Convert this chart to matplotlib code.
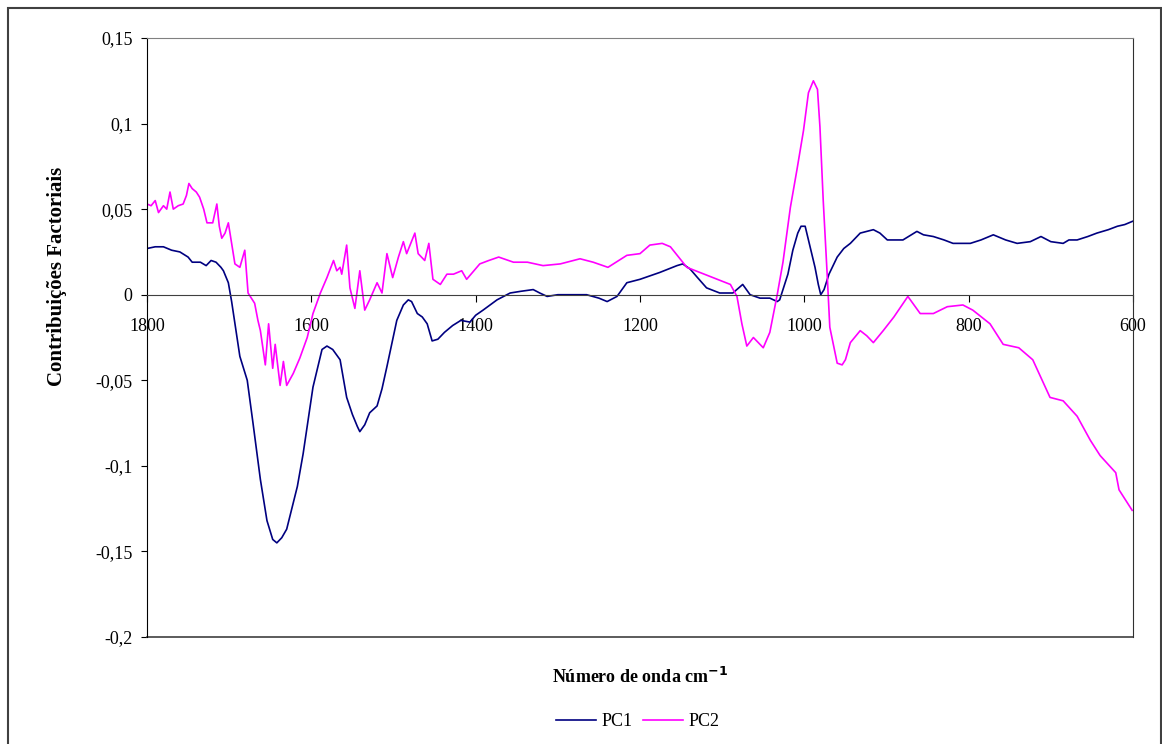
import numpy as np
import matplotlib.pyplot as plt
from matplotlib.patches import Rectangle

# digitised loadings (wavenumber cm-1, value)
pc1_wn = [1800, 1790, 1780, 1770, 1760, 1750, 1745, 1735, 1728, 1722, 1716, 1710, 1707, 1701,
          1697, 1692, 1687, 1678, 1671, 1662, 1654, 1647, 1642, 1636, 1630, 1617, 1610, 1598,
          1587, 1581, 1574, 1565, 1557, 1550, 1544, 1541, 1535, 1529, 1520, 1514, 1508, 1496,
          1488, 1482, 1478, 1471, 1465, 1459, 1453, 1446, 1438, 1428, 1418, 1407, 1400, 1391,
          1374, 1358, 1345, 1330, 1322, 1313, 1300, 1289, 1265, 1250, 1240, 1228, 1216, 1200,
          1176, 1155, 1148, 1139, 1130, 1119, 1103, 1087, 1075, 1066, 1054, 1042, 1033, 1030,
          1026, 1020, 1014, 1008, 1004, 999, 993, 987, 983, 980, 976, 970, 960, 952, 944, 932,
          916, 908, 899, 880, 863, 855, 843, 830, 819, 798, 785, 770, 755, 741, 725, 712, 700,
          685, 678, 668, 655, 644, 630, 619, 610, 600]
pc1_val = [0.027, 0.028, 0.028, 0.026, 0.025, 0.022, 0.019, 0.019, 0.017, 0.020, 0.019, 0.016,
           0.014, 0.007, -0.004, -0.020, -0.036, -0.050, -0.075, -0.108, -0.132, -0.143, -0.145,
           -0.142, -0.137, -0.112, -0.093, -0.054, -0.032, -0.030, -0.032, -0.038, -0.060, -0.070,
           -0.077, -0.080, -0.076, -0.069, -0.065, -0.055, -0.042, -0.015, -0.006, -0.003, -0.004,
           -0.011, -0.013, -0.017, -0.027, -0.026, -0.022, -0.018, -0.015, -0.016, -0.012, -0.009,
           -0.003, 0.001, 0.002, 0.003, 0.001, -0.001, 0.000, 0.000, 0.000, -0.002, -0.004, -0.001,
           0.007, 0.009, 0.013, 0.017, 0.018, 0.015, 0.010, 0.004, 0.001, 0.001, 0.006, 0.000,
           -0.002, -0.002, -0.004, -0.003, 0.003, 0.012, 0.026, 0.036, 0.040, 0.040, 0.028, 0.016,
           0.006, 0.000, 0.003, 0.012, 0.022, 0.027, 0.030, 0.036, 0.038, 0.036, 0.032, 0.032,
           0.037, 0.035, 0.034, 0.032, 0.030, 0.030, 0.032, 0.035, 0.032, 0.030, 0.031, 0.034,
           0.031, 0.030, 0.032, 0.032, 0.034, 0.036, 0.038, 0.040, 0.041, 0.043]

pc2_wn = [1800, 1795, 1790, 1786, 1780, 1776, 1772, 1768, 1762, 1756, 1752, 1749, 1745, 1740,
          1736, 1731, 1727, 1720, 1715, 1712, 1709, 1705, 1701, 1697, 1693, 1687, 1681, 1677,
          1673, 1669, 1665, 1662, 1656, 1652, 1647, 1644, 1638, 1634, 1630, 1622, 1614, 1605,
          1598, 1589, 1581, 1573, 1569, 1565, 1563, 1557, 1553, 1547, 1541, 1535, 1529, 1520,
          1514, 1508, 1501, 1494, 1488, 1484, 1474, 1470, 1462, 1457, 1452, 1443, 1435, 1427,
          1417, 1411, 1395, 1384, 1372, 1354, 1337, 1318, 1297, 1273, 1257, 1239, 1216, 1200,
          1188, 1173, 1163, 1143, 1127, 1111, 1090, 1082, 1076, 1070, 1062, 1050, 1042, 1033,
          1026, 1017, 1009, 1001, 995, 989, 984, 981, 977, 972, 969, 960, 954, 950, 944, 932,
          924, 916, 904, 891, 874, 859, 843, 826, 807, 795, 774, 758, 739, 722, 701, 685, 668,
          652, 640, 621, 617, 601]
pc2_val = [0.053, 0.052, 0.055, 0.048, 0.052, 0.050, 0.060, 0.050, 0.052, 0.053, 0.058, 0.065,
           0.062, 0.060, 0.057, 0.050, 0.042, 0.042, 0.053, 0.040, 0.033, 0.036, 0.042, 0.030,
           0.018, 0.016, 0.026, 0.001, -0.002, -0.005, -0.015, -0.021, -0.041, -0.017, -0.043,
           -0.029, -0.053, -0.039, -0.053, -0.046, -0.037, -0.025, -0.011, 0.001, 0.010, 0.020,
           0.014, 0.016, 0.012, 0.029, 0.004, -0.008, 0.014, -0.009, -0.003, 0.007, 0.001, 0.024,
           0.010, 0.022, 0.031, 0.024, 0.036, 0.024, 0.020, 0.030, 0.009, 0.006, 0.012, 0.012,
           0.014, 0.009, 0.018, 0.020, 0.022, 0.019, 0.019, 0.017, 0.018, 0.021, 0.019, 0.016,
           0.023, 0.024, 0.029, 0.030, 0.028, 0.016, 0.013, 0.010, 0.006, -0.001, -0.017, -0.030,
           -0.025, -0.031, -0.022, 0.000, 0.019, 0.051, 0.073, 0.096, 0.118, 0.125, 0.120, 0.098,
           0.055, 0.010, -0.019, -0.040, -0.041, -0.038, -0.028, -0.021, -0.024, -0.028, -0.021,
           -0.013, -0.001, -0.011, -0.011, -0.007, -0.006, -0.009, -0.017, -0.029, -0.031, -0.038,
           -0.060, -0.062, -0.071, -0.085, -0.094, -0.104, -0.114, -0.126]

x_ticks = [1800, 1600, 1400, 1200, 1000, 800, 600]
y_ticks = [0.15, 0.1, 0.05, 0, -0.05, -0.1, -0.15, -0.2]
y_tick_labels = ['0,15', '0,1', '0,05', '0', '-0,05', '-0,1', '-0,15', '-0,2']

plt.rcParams['font.family'] = ['Liberation Serif', 'DejaVu Serif']

fig = plt.figure(figsize=(11.62, 7.44), dpi=100)
ax = fig.add_axes([147/1162, 1-637/744, (1133-147)/1162, (637-38)/744])

ax.plot(pc1_wn, pc1_val, color='#000080', lw=1.2, label='PC1')
ax.plot(pc2_wn, pc2_val, color='#FF00FF', lw=1.2, label='PC2')

ax.set_xlim(1800, 600)
ax.set_ylim(-0.2, 0.15)

ax.spines['bottom'].set_position(('data', 0))
ax.spines['bottom'].set_color('#404040')
ax.spines['top'].set_color('#808080')
ax.spines['right'].set_color('#303030')
ax.spines['left'].set_color('black')
ax.axhline(-0.2, color='#404040', lw=1.2, clip_on=False)

ax.set_xticks(x_ticks)
ax.set_xticklabels([str(t) for t in x_ticks])
ax.set_yticks(y_ticks)
ax.set_yticklabels(y_tick_labels)
ax.tick_params(axis='x', direction='out', length=5, pad=12, labelsize=13)
ax.tick_params(axis='y', direction='out', length=4.5, pad=6, labelsize=13)

fig.text(57/1162, 1-276/744, 'Contribuições Factoriais', fontsize=15, fontweight='bold',
         rotation=90, ha='center', va='center')
fig.text(640/1162, 1-677/744, r'Número de onda cm$^{\mathbf{-1}}$', fontsize=13,
         fontweight='bold', ha='center', va='center')

fig.legend(loc='center', bbox_to_anchor=(638/1162, 1-722/744), ncol=2, frameon=False,
           fontsize=13, handlelength=2.2, columnspacing=0.6, handletextpad=0.3)

fig.patches.append(Rectangle((8/1162, -0.02), (1161-8)/1162, 1.02-8/744,
                             transform=fig.transFigure, fill=False,
                             edgecolor='#404040', lw=1.5))

fig.savefig('out.png', dpi=100)
